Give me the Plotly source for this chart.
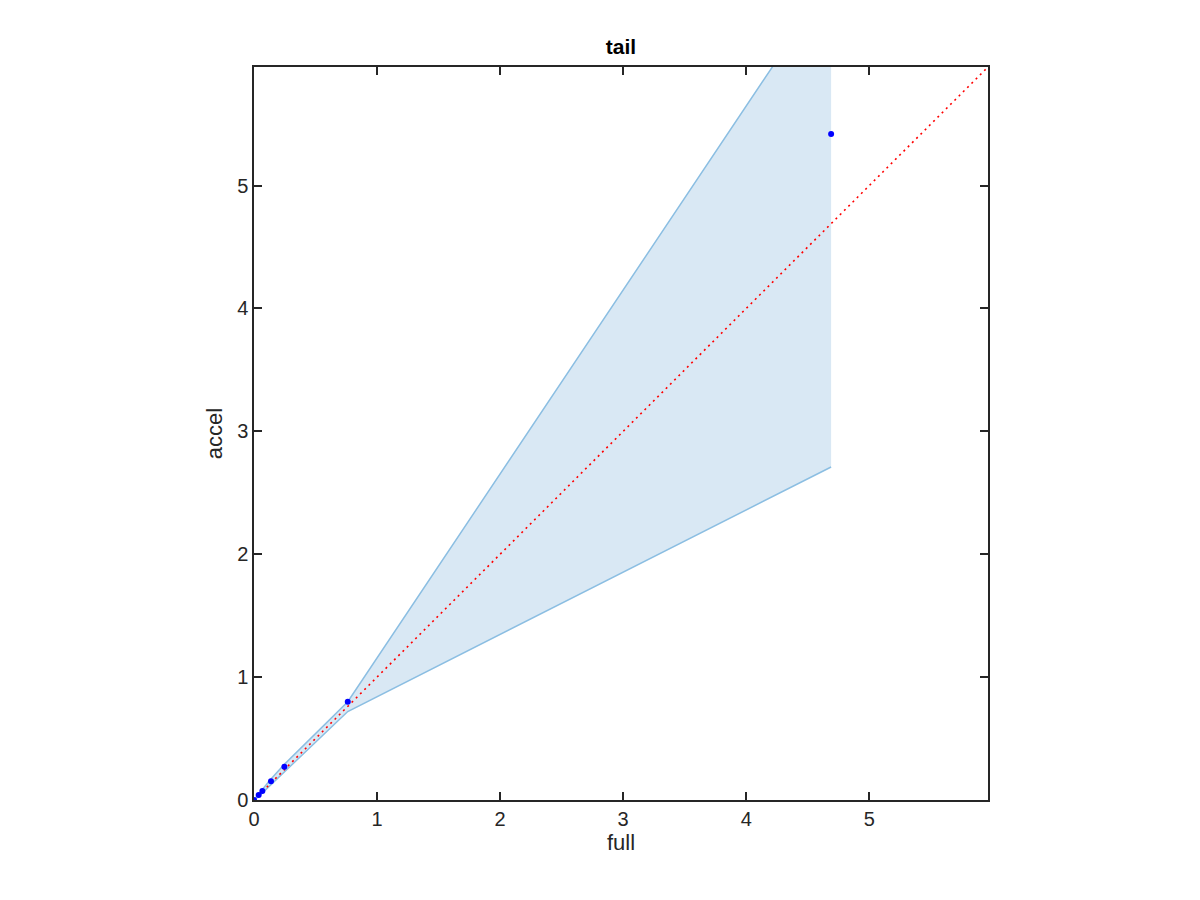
import plotly.graph_objects as go

# data
full_vals = [0.0, 0.038, 0.068, 0.138, 0.247, 0.762, 4.69]
accel_vals = [0.0, 0.041, 0.073, 0.152, 0.271, 0.80, 5.42]
upper_vals = [0.0, 0.05, 0.085, 0.17, 0.29, 0.80, 6.68]
lower_vals = [0.0, 0.028, 0.058, 0.125, 0.235, 0.72, 2.71]
axis_max = 5.965
diag = [0.0, axis_max]
ticks = [0, 1, 2, 3, 4, 5]

fill_col = "rgb(217,232,244)"
line_col = "rgb(139,190,226)"
font_fam = "Liberation Sans, Arial, sans-serif"

fig = go.Figure()
# shaded band polygon (no outline)
fig.add_trace(go.Scatter(
    x=full_vals + full_vals[::-1],
    y=upper_vals + lower_vals[::-1],
    fill="toself", fillcolor=fill_col, mode="none", hoverinfo="skip", showlegend=False))
fig.add_trace(go.Scatter(x=full_vals, y=upper_vals, mode="lines",
                         line=dict(color=line_col, width=1.5), showlegend=False))
fig.add_trace(go.Scatter(x=full_vals, y=lower_vals, mode="lines",
                         line=dict(color=line_col, width=1.5), showlegend=False))
fig.add_trace(go.Scatter(x=diag, y=diag, mode="lines",
                         line=dict(color="red", width=1.6, dash="2px,4px"), showlegend=False))
fig.add_trace(go.Scatter(x=full_vals, y=accel_vals, mode="markers",
                         marker=dict(color="blue", size=6), showlegend=False))

axis_common = dict(
    range=[0, axis_max], tickvals=ticks, showgrid=False, zeroline=False,
    showline=True, linecolor="#262626", linewidth=1.5, mirror="ticks",
    ticks="inside", ticklen=8, tickcolor="#262626", tickwidth=1.5,
    tickfont=dict(family=font_fam, size=20, color="#262626"),
)
fig.update_xaxes(**axis_common, title=dict(text="full", font=dict(family=font_fam, size=22, color="#262626"), standoff=2))
fig.update_yaxes(**axis_common, title=dict(text="accel", font=dict(family=font_fam, size=22, color="#262626"), standoff=8))

fig.update_layout(
    width=1200, height=900,
    margin=dict(l=246, r=220, t=59, b=108),
    plot_bgcolor="white", paper_bgcolor="white",
    title=dict(text="<b>tail</b>", x=(621 - 8) / 1200, xanchor="center", y=1 - 39/900, yanchor="middle",
               font=dict(family=font_fam, size=21, color="black")),
)

fig.write_html("out.html")
